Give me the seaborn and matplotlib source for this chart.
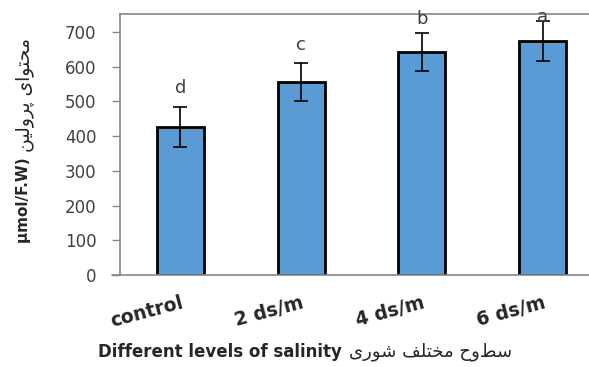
import numpy as np
import pandas as pd
import matplotlib
matplotlib.use('Agg')
import matplotlib.pyplot as plt
import seaborn as sns

# data
levels = ['control', '2 ds/m', '4 ds/m', '6 ds/m']
proline = [426, 555, 642, 675]
err = [57, 55, 55, 57]
letters = ['d', 'c', 'b', 'a']
letter_y = [524, 648, 723, 729]

# Persian text written in visual order with presentation forms (matplotlib does no shaping)
fa_ylabel = '\uFEE6\uFBFF\uFEDF\uFEED\uFEAE\uFB58 \uFBFC\uFE8D\uFEEE\uFE98\uFEA4\uFEE3'
fa_xlabel = '\uFBFC\uFEAD\uFEEE\uFEB7 \uFED2\uFEE0\uFE98\uFEA8\uFEE3 \uFEA1\uFEED\uFEC2\uFEB3'

df = pd.DataFrame({'level': levels, 'proline': proline})

sns.set_style('white')
plt.rcParams['font.family'] = ['DejaVu Sans']

fig = plt.figure(figsize=(5.89, 3.67), dpi=100)
ax = fig.add_axes([120 / 589, 92 / 367, 483 / 589, 261 / 367])

sns.barplot(data=df, x='level', y='proline', color='#5B9BD5', saturation=1,
            width=0.39, edgecolor='black', linewidth=2, errorbar=None,
            ax=ax, zorder=2)
ax.errorbar(np.arange(len(levels)), proline, yerr=err, fmt='none',
            ecolor='black', elinewidth=1.2, capsize=5, capthick=1.2, zorder=3)

for i, (t, yv) in enumerate(zip(letters, letter_y)):
    ax.text(i, yv, t, ha='center', va='baseline', fontsize=13,
            color='#404040', clip_on=False, zorder=4)

ax.set_xlim(-0.5, 3.5)
ax.set_ylim(0, 752)
ax.set_yticks(range(0, 701, 100))
ax.tick_params(axis='y', length=6, width=1, color='#888888', labelsize=12,
               labelcolor='#404040', direction='out', left=True, pad=11)
ax.tick_params(axis='x', length=0, pad=13)
ax.set_xticks(range(len(levels)))
ax.set_xticklabels(levels, rotation=15, ha='right', va='top',
                   rotation_mode='anchor', fontsize=13.5, fontweight='bold')

for s in ['left', 'top', 'bottom']:
    ax.spines[s].set_color('#888888')
    ax.spines[s].set_linewidth(1.2)
ax.spines['right'].set_visible(False)
ax.plot([-8 / 483, 0], [0, 0], color='#888888', lw=1.2,
        transform=ax.transAxes, clip_on=False)

ax.set_xlabel('')
ax.set_ylabel('')
yl = fig.text(24 / 589, 1 - 243 / 367, 'µmol/F.W) ', rotation=90,
              fontsize=11, fontweight='bold', ha='center', va='bottom')
ax.annotate(fa_ylabel, xy=(0.5, 1), xycoords=yl, xytext=(0, 0),
            textcoords='offset points', ha='center', va='bottom',
            rotation=90, fontsize=13.5, annotation_clip=False)

en = fig.text(98 / 589, 1 - 352 / 367, 'Different levels of salinity',
              fontsize=12, fontweight='bold', va='center', ha='left')
ax.annotate(fa_xlabel, xy=(1, 0.5), xycoords=en, xytext=(5, 0),
            textcoords='offset points', ha='left', va='center',
            fontsize=13, annotation_clip=False)

fig.savefig('out.png', dpi=100)
